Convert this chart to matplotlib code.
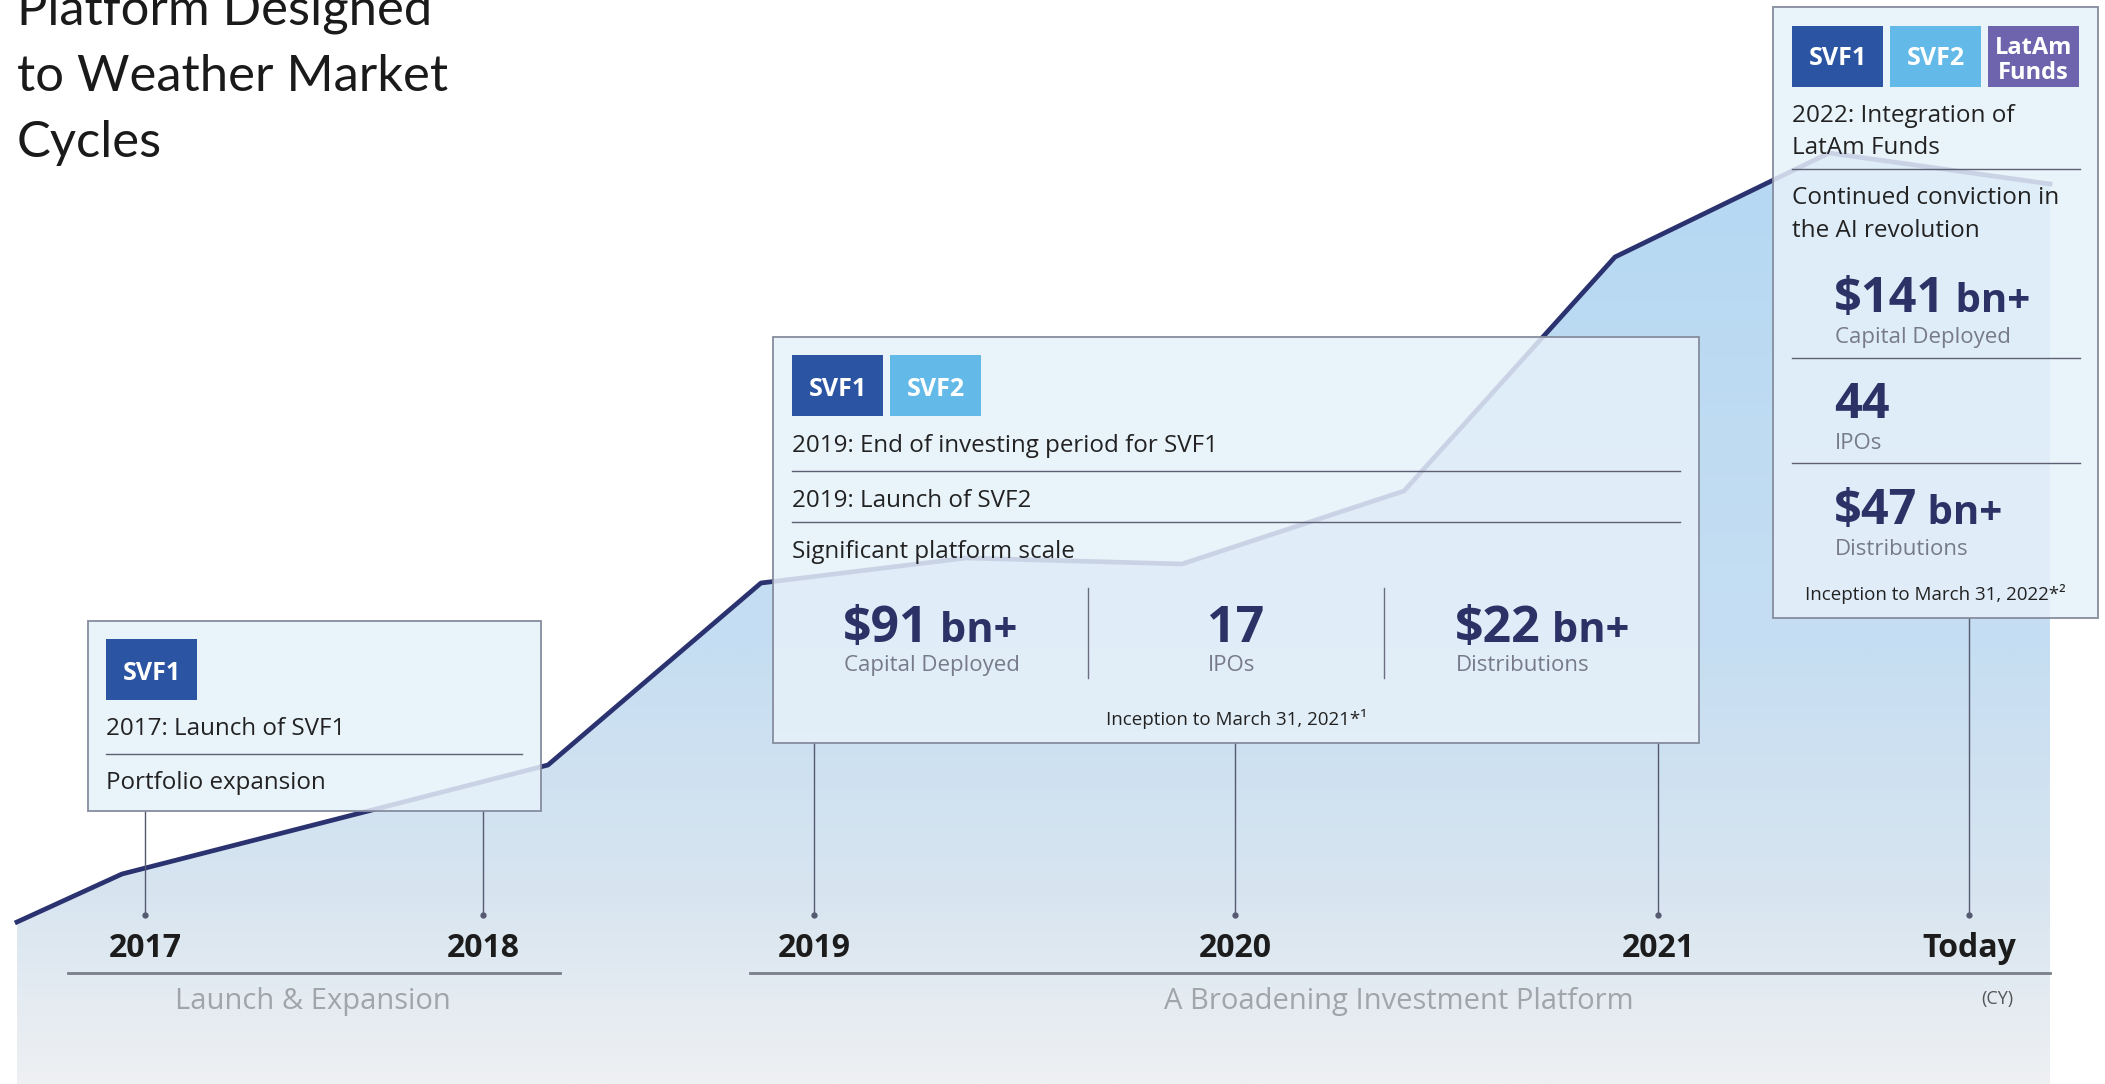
import numpy as np
import matplotlib
matplotlib.use('Agg')
import matplotlib.pyplot as plt
from matplotlib.colors import LinearSegmentedColormap
from matplotlib.patches import Rectangle, Polygon

W, H = 2105, 1084
FONT = ['Open Sans', 'DejaVu Sans']
NAVY = '#2d3266'
GREY = '#777a8a'
INK = '#222222'

# platform growth curve: timeline position and level
growth_x = [17, 122, 548, 761, 966, 1182, 1404, 1615, 1829, 2050]
growth_lvl = [162, 210, 319, 501, 526, 520, 593, 827, 931, 900]

years = ['2017', '2018', '2019', '2020', '2021', 'Today']
phases = ['Launch & Expansion', 'A Broadening Investment Platform']
title_lines = ['Platform Designed', 'to Weather Market', 'Cycles']

box1_badges = ['SVF1']
box1_lines = ['2017: Launch of SVF1', 'Portfolio expansion']

box2_badges = ['SVF1', 'SVF2']
box2_lines = ['2019: End of investing period for SVF1', '2019: Launch of SVF2',
              'Significant platform scale']
box2_nums = ['$91', '17', '$22']
box2_units = [' bn+', '', ' bn+']
box2_labels = ['Capital Deployed', 'IPOs', 'Distributions']
box2_note = 'Inception to March 31, 2021*\u00b9'

box3_badges = ['SVF1', 'SVF2', 'LatAm\nFunds']
box3_lines = [['2022: Integration of', 'LatAm Funds'],
              ['Continued conviction in', 'the AI revolution']]
box3_nums = ['$141', '44', '$47']
box3_units = [' bn+', '', ' bn+']
box3_labels = ['Capital Deployed', 'IPOs', 'Distributions']
box3_note = 'Inception to March 31, 2022*\u00b2'

badge_colors = {'SVF1': '#2b55a3', 'SVF2': '#63b9e8', 'LatAm\nFunds': '#6e64ae'}

fig = plt.figure(figsize=(W / 100, H / 100), dpi=100)
fig.patch.set_facecolor('white')

# ---- area chart underneath
ax0 = fig.add_axes([0, 0, 1, 1])
ax0.set_xlim(0, W)
ax0.set_ylim(0, H)
ax0.axis('off')

poly = Polygon(list(zip(growth_x, growth_lvl)) + [(growth_x[-1], 0), (growth_x[0], 0)],
               closed=True, facecolor='none', edgecolor='none')
ax0.add_patch(poly)
cmap = LinearSegmentedColormap.from_list('bg', [(0, '#eef0f3'), (0.17, '#d8e5f0'),
                                                (0.40, '#c6def2'), (0.86, '#b5d8f3'),
                                                (1, '#b3d7f3')])
grad = np.linspace(0, 1, 400).reshape(-1, 1)
im = ax0.imshow(grad, extent=[0, W, 0, H], origin='lower', aspect='auto', cmap=cmap,
                vmin=0, vmax=1, zorder=1)
im.set_clip_path(poly)
ax0.plot(growth_x, growth_lvl, color='#2b3270', lw=3.4, solid_joinstyle='round', zorder=2)

# ---- overlay in pixel units (y down)
ax = fig.add_axes([0, 0, 1, 1])
ax.set_xlim(0, W)
ax.set_ylim(H, 0)
ax.patch.set_alpha(0)
ax.axis('off')

# title
for i, t in enumerate(title_lines):
    ax.text(17, 25 + i * 66, t, fontsize=36.5, family=['Lato', 'DejaVu Sans'],
            color='#1a1a1a', va='baseline', ha='left')

# timeline ticks
tick_x = [145, 483, 814, 1235, 1658, 1969]
tick_top = [811, 811, 743, 743, 743, 618]
for x, top, lab in zip(tick_x, tick_top, years):
    ax.plot([x, x], [top, 915], color='#555a70', lw=1)
    ax.plot(x, 915, 'o', color='#555a70', ms=3.5)
    ax.text(x, 957, lab, fontsize=23, weight='bold', color='#1c1c1c', ha='center',
            va='baseline', family=FONT)

ax.plot([68, 560], [973, 973], color='#7a7e88', lw=2)
ax.plot([750, 2050], [973, 973], color='#7a7e88', lw=2)
ax.text(313, 1009, phases[0], fontsize=21, color='#a0a4ab', ha='center', va='baseline',
        family=FONT)
ax.text(1399, 1009, phases[1], fontsize=21, color='#a0a4ab', ha='center', va='baseline',
        family=FONT)
ax.text(1997, 1004, '(CY)', fontsize=13, color='#555', ha='center', va='baseline',
        family=FONT)


def box(x0, y0, x1, y1):
    ax.add_patch(Rectangle((x0, y0), x1 - x0, y1 - y0, facecolor='#e6f1fa', alpha=0.85,
                           edgecolor='none', zorder=3))
    ax.add_patch(Rectangle((x0, y0), x1 - x0, y1 - y0, facecolor='none',
                           edgecolor='#868c9e', lw=1.3, zorder=4))


def badges(names, x0, y0, y1, w=91, gap=7, base=None, size=18):
    for i, n in enumerate(names):
        bx = x0 + i * (w + gap)
        ax.add_patch(Rectangle((bx, y0), w, y1 - y0, facecolor=badge_colors[n],
                               edgecolor='none', zorder=5))
        if '\n' in n:
            a, b = n.split('\n')
            ax.text(bx + w / 2, y0 + 28, a, fontsize=17, weight='bold', color='white',
                    ha='center', va='baseline', family=FONT, zorder=6)
            ax.text(bx + w / 2, y0 + 53, b, fontsize=17, weight='bold', color='white',
                    ha='center', va='baseline', family=FONT, zorder=6)
        else:
            ax.text(bx + w / 2, base, n, fontsize=size, weight='bold', color='white',
                    ha='center', va='baseline', family=FONT, zorder=6)


def sep(x0, x1, y):
    ax.plot([x0, x1], [y, y], color='#5c6072', lw=1, zorder=5)


def body(x, y, s, size=17.4, color=INK, ha='left', weight='normal'):
    return ax.text(x, y, s, fontsize=size, color=color, ha=ha, va='baseline',
                   family=FONT, weight=weight, zorder=6)


renderer = fig.canvas.get_renderer()


def stat(x, y, num, unit, size, usize, ha, label, gap):
    t1 = body(x, y, num, size=size, color=NAVY, weight='bold')
    t2 = body(x, y, unit, size=usize, color=NAVY, weight='bold')
    w1 = t1.get_window_extent(renderer).width
    w2 = t2.get_window_extent(renderer).width if unit else 0
    x0 = x - (w1 + w2) / 2 if ha == 'center' else x
    t1.set_x(x0)
    t2.set_x(x0 + w1)
    body(x0 + 1, y + gap, label, size=16, color=GREY)


# box 1
box(88, 621, 541, 811)
badges(box1_badges, 106, 639, 700, base=680)
body(106, 735, box1_lines[0])
sep(106, 522, 754)
body(106, 789, box1_lines[1])

# box 2
box(773, 337, 1699, 743)
badges(box2_badges, 792, 355, 416, base=396)
body(792, 452, box2_lines[0])
sep(792, 1680, 471)
body(792, 507, box2_lines[1])
sep(792, 1680, 522)
body(792, 558, box2_lines[2])
for cx, n, u, lab in zip([930, 1236, 1542], box2_nums, box2_units, box2_labels):
    stat(cx, 642, n, u, 36, 30, 'center', lab, 29)
for dx in [1088, 1384]:
    ax.plot([dx, dx], [588, 678], color='#6a6e80', lw=1, zorder=5)
body(1236, 725, box2_note, size=13.5, ha='center')

# box 3
box(1773, 7, 2098, 618)
badges(box3_badges, 1792, 26, 87, base=65)
body(1792, 122, box3_lines[0][0], size=17.5)
body(1792, 154, box3_lines[0][1], size=17.5)
sep(1792, 2080, 169)
body(1792, 204, box3_lines[1][0], size=17.5)
body(1792, 237, box3_lines[1][1], size=17.5)
for yb, n, u, lab in zip([312, 418, 524], box3_nums, box3_units, box3_labels):
    stat(1834, yb, n, u, 35, 29, 'left', lab, 31)
sep(1792, 2080, 358)
sep(1792, 2080, 463)
body(1935, 600, box3_note, size=13.5, ha='center')

fig.savefig('out.png', dpi=100, facecolor='white')
